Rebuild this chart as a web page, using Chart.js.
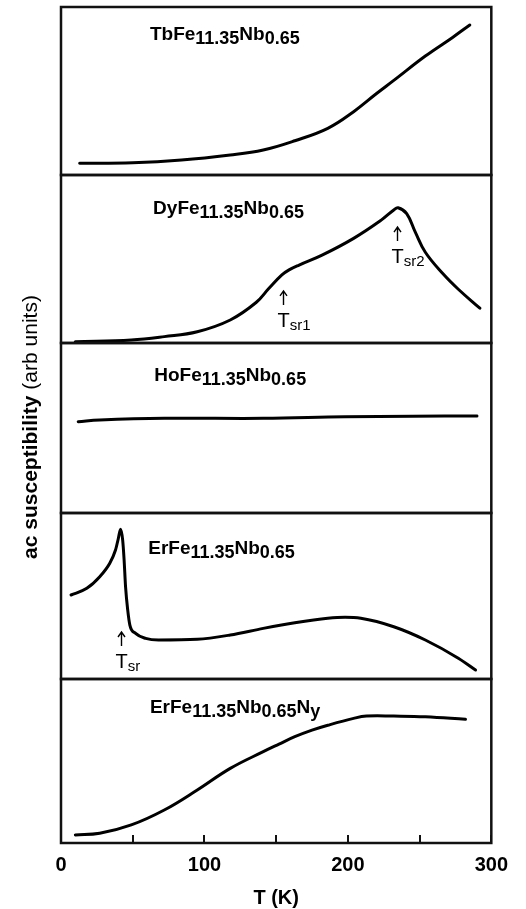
<!DOCTYPE html>
<html>
<head>
<meta charset="utf-8">
<script src="https://cdn.jsdelivr.net/npm/chart.js@4.4.1/dist/chart.umd.min.js"></script>
<style>
  html, body { margin: 0; padding: 0; background: #fff; }
</style>
</head>
<body>
<canvas id="chiChart" width="526" height="909"></canvas>
<script>
// ac susceptibility (arb. units, 0-100 per panel) against temperature in K

const tbT   = [13, 50, 84, 118, 141, 163, 186, 204, 220, 232, 254, 273, 285];
const tbChi = [7.0, 7.3, 8.9, 11.9, 14.9, 20.4, 27.8, 37.7, 48.5, 56.3, 70.8, 81.9, 89.3];

const dyT   = [10, 49, 72, 95, 118, 136, 145, 154, 159, 166, 182, 204, 223, 232, 235, 241, 247, 254, 266, 277, 292];
const dyChi = [0.8, 1.8, 3.8, 6.7, 13.7, 24.1, 32.6, 40.5, 43.5, 46.4, 52.3, 62.3, 73.0, 79.2, 80.5, 77.0, 66.0, 54.0, 41.5, 32.0, 20.7];

const hoT   = [12, 27, 72, 141, 198, 245, 290];
const hoChi = [53.7, 54.7, 55.7, 55.7, 56.6, 56.9, 57.1];

const erT   = [7, 18, 27, 34, 38, 40, 41.5, 43, 44, 45, 46.5, 48, 52, 59, 68, 95, 118, 141, 163, 186, 198, 209, 232, 254, 277, 289];
const erChi = [50.6, 54.6, 61.6, 69.7, 77.7, 84.8, 90.2, 83.7, 71.7, 55.6, 41.6, 32.5, 27.5, 24.5, 23.5, 23.9, 26.5, 30.5, 33.9, 36.6, 37.2, 36.6, 31.5, 23.5, 12.5, 5.4];

const ernT   = [10, 27, 49, 72, 95, 118, 141, 152, 163, 175, 186, 204, 213, 232, 254, 282];
const ernChi = [4.9, 5.9, 11.0, 20.1, 32.3, 45.5, 55.7, 60.3, 64.8, 68.8, 71.8, 76.0, 77.4, 77.4, 77.0, 75.4];

// panels top to bottom
const panelIds = ['yTb', 'yDy', 'yHo', 'yEr', 'yErN'];
const panelHeights = [168, 168, 170, 166, 164];
const panelSeries = [[tbT, tbChi], [dyT, dyChi], [hoT, hoChi], [erT, erChi], [ernT, ernChi]];

// compound names: [text, subscript?]
const formulas = [
  [['TbFe', 0], ['11.35', 1], ['Nb', 0], ['0.65', 1]],
  [['DyFe', 0], ['11.35', 1], ['Nb', 0], ['0.65', 1]],
  [['HoFe', 0], ['11.35', 1], ['Nb', 0], ['0.65', 1]],
  [['ErFe', 0], ['11.35', 1], ['Nb', 0], ['0.65', 1]],
  [['ErFe', 0], ['11.35', 1], ['Nb', 0], ['0.65', 1], ['N', 0], ['y', 1]]
];
// name anchor (T, chi) inside each panel
const formulaPos = [[62, 80.4], [64.2, 76.8], [65, 77.6], [60.8, 75.3], [62, 79.3]];

// spin reorientation markers: panel, T, chi at arrow tip, subscript
const tsrMarks = [
  ['yDy', 155, 31.0, 'sr1'],
  ['yDy', 234.4, 69.0, 'sr2'],
  ['yEr', 41.7, 28.3, 'sr']
];

const xTicks = [0, 100, 200, 300];
const FONT = '"Liberation Sans", Arial, Helvetica, sans-serif';

const yScales = {};
panelIds.forEach((id, i) => {
  yScales[id] = {
    type: 'linear',
    position: 'left',
    stack: 'panels',
    stackWeight: panelHeights[i],
    weight: panelIds.length - i,
    min: 0,
    max: 100,
    ticks: { display: false },
    grid: { display: false, drawTicks: false },
    border: { display: false }
  };
});

// the Er curve has a sharp cusp, so it keeps monotone interpolation
const datasets = panelSeries.map(([ts, chi], i) => ({
  data: ts.map((t, k) => ({ x: t, y: chi[k] })),
  yAxisID: panelIds[i],
  borderColor: '#000',
  borderWidth: 3,
  pointRadius: 0,
  fill: false,
  tension: 0.4,
  cubicInterpolationMode: panelIds[i] === 'yEr' ? 'monotone' : 'default',
  borderCapStyle: 'round',
  borderJoinStyle: 'round'
}));

function drawFormula(ctx, parts, x, y) {
  parts.forEach(([txt, sub]) => {
    ctx.font = (sub ? 'bold 18px ' : 'bold 19px ') + FONT;
    ctx.fillText(txt, x, sub ? y + 4 : y);
    x += ctx.measureText(txt).width;
  });
}

const panelDecor = {
  id: 'panelDecor',
  afterDraw(chart) {
    const ctx = chart.ctx;
    const { left, right } = chart.chartArea;
    const xs = chart.scales.x;
    ctx.save();

    // panel frames
    ctx.strokeStyle = '#111';
    ctx.lineWidth = 2.5;
    panelIds.forEach(id => {
      const s = chart.scales[id];
      ctx.strokeRect(left, s.top, right - left, s.bottom - s.top);
    });

    // compound names
    ctx.fillStyle = '#000';
    ctx.textBaseline = 'alphabetic';
    ctx.textAlign = 'left';
    formulas.forEach((parts, i) => {
      const ys = chart.scales[panelIds[i]];
      drawFormula(ctx, parts, xs.getPixelForValue(formulaPos[i][0]), ys.getPixelForValue(formulaPos[i][1]));
    });

    // T_sr arrows and labels
    ctx.lineWidth = 1.4;
    ctx.strokeStyle = '#000';
    tsrMarks.forEach(([id, t, chi, sub]) => {
      const px = Math.round(xs.getPixelForValue(t)) + 0.5;
      const py = chart.scales[id].getPixelForValue(chi);
      ctx.beginPath();
      ctx.moveTo(px, py);
      ctx.lineTo(px, py + 14);
      ctx.moveTo(px - 3.5, py + 5);
      ctx.lineTo(px, py);
      ctx.lineTo(px + 3.5, py + 5);
      ctx.stroke();
      ctx.font = '20px ' + FONT;
      const lx = px - 6;
      ctx.fillText('T', lx, py + 36);
      const w = ctx.measureText('T').width;
      ctx.font = '15px ' + FONT;
      ctx.fillText(sub, lx + w, py + 39);
    });

    // y axis title, bold quantity and regular units
    ctx.translate(31, 427);
    ctx.rotate(-Math.PI / 2);
    const boldPart = 'ac susceptibility ';
    const normPart = '(arb units)';
    ctx.font = 'bold 21px ' + FONT;
    const wb = ctx.measureText(boldPart).width;
    ctx.font = '21px ' + FONT;
    const wn = ctx.measureText(normPart).width;
    ctx.textBaseline = 'middle';
    ctx.font = 'bold 21px ' + FONT;
    ctx.fillText(boldPart, -(wb + wn) / 2, 0);
    ctx.font = '21px ' + FONT;
    ctx.fillText(normPart, -(wb + wn) / 2 + wb, 0);
    ctx.restore();
  }
};

new Chart(document.getElementById('chiChart'), {
  type: 'line',
  data: { datasets },
  options: {
    responsive: false,
    animation: false,
    layout: { padding: { left: 61, right: 27, top: 7, bottom: -3 } },
    plugins: { legend: { display: false }, tooltip: { enabled: false } },
    scales: {
      x: {
        type: 'linear',
        min: 0,
        max: 300,
        border: { display: false },
        grid: { drawOnChartArea: false, drawTicks: true, tickLength: -8, color: '#111', lineWidth: 2 },
        ticks: {
          stepSize: 50,
          autoSkip: false,
          maxRotation: 0,
          padding: 18,
          color: '#000',
          font: { family: FONT, size: 20, weight: 'bold' },
          callback: v => (xTicks.includes(v) ? String(v) : '')
        },
        title: {
          display: true,
          text: 'T (K)',
          color: '#000',
          font: { family: FONT, size: 20, weight: 'bold' },
          padding: { top: -9, bottom: 2 }
        }
      },
      ...yScales
    }
  },
  plugins: [panelDecor]
});
</script>
</body>
</html>
